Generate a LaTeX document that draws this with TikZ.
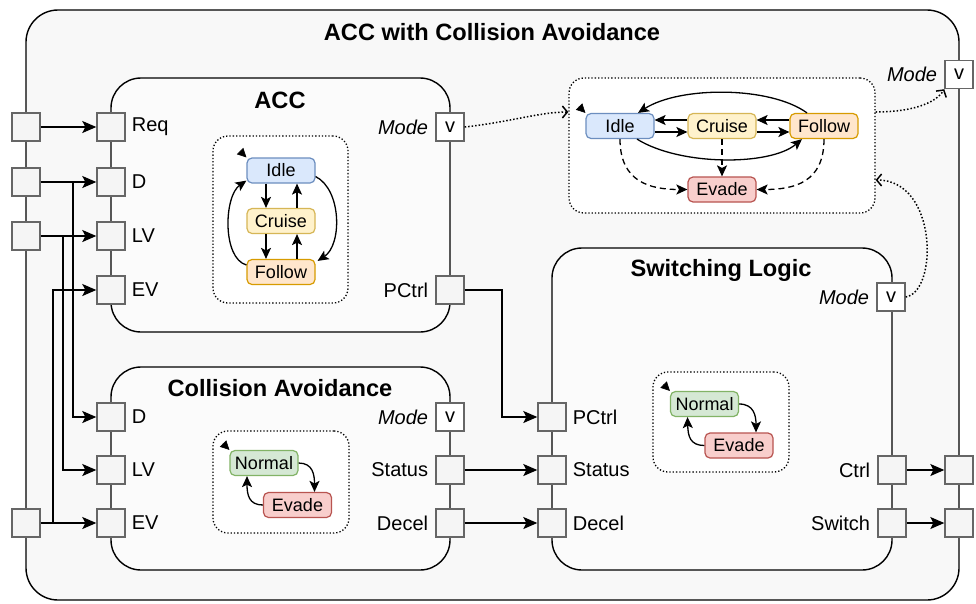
\documentclass[tikz,border=0pt]{standalone}
\usepackage{fontspec}
\setmainfont{Liberation Sans}
\usetikzlibrary{arrows.meta,calc}
\definecolor{portfill}{HTML}{F5F5F5}
\definecolor{portdraw}{HTML}{666666}
\definecolor{outerfill}{HTML}{F8F8F8}
\definecolor{innerfill}{HTML}{FBFBFB}
\definecolor{idlef}{HTML}{DAE8FC}\definecolor{idled}{HTML}{6C8EBF}
\definecolor{cruisef}{HTML}{FFF2CC}\definecolor{cruised}{HTML}{D6B656}
\definecolor{followf}{HTML}{FFE6CC}\definecolor{followd}{HTML}{D79B00}
\definecolor{evadef}{HTML}{F8CECC}\definecolor{evaded}{HTML}{B85450}
\definecolor{normalf}{HTML}{D5E8D4}\definecolor{normald}{HTML}{82B366}
\tikzset{
  bigbox/.style={draw=black, line width=1.4pt, rounded corners=30pt, fill=innerfill},
  dotbox/.style={draw=black, dotted, line width=1.3pt, rounded corners=15pt, fill=white, inner sep=0pt},
  port/.style={draw=portdraw, fill=portfill, line width=1.4pt, minimum size=28pt, inner sep=0pt},
  vport/.style={port, fill=white, font=\fontsize{20}{24}\selectfont},
  plabel/.style={inner sep=0pt, font=\fontsize{20}{24}\selectfont},
  mlabel/.style={inner sep=0pt, font=\fontsize{20}{24}\selectfont\itshape, anchor=east},
  ttl/.style={inner sep=0pt, font=\fontsize{23.6}{28}\selectfont\bfseries},
  state/.style={rounded corners=5pt, minimum width=68pt, minimum height=25pt, line width=1.2pt, inner sep=0pt, font=\fontsize{18}{22}\selectfont},
  idlest/.style={state, draw=idled, fill=idlef},
  cruisest/.style={state, draw=cruised, fill=cruisef},
  followst/.style={state, draw=followd, fill=followf},
  evadest/.style={state, draw=evaded, fill=evadef},
  normalst/.style={state, draw=normald, fill=normalf},
  conn/.style={line width=1.4pt, -{Stealth[length=14pt,width=12pt,inset=3pt]}},
  sarr/.style={line width=1.3pt, -{Stealth[length=11pt,width=10pt,inset=2.5pt]}},
  dasharr/.style={sarr, dash pattern=on 6pt off 4pt},
  initarr/.style={line width=0.6pt, -{Triangle[length=9pt,width=9pt]}},
  dotarr/.style={line width=1.5pt, dotted, -{Straight Barb[length=5pt,width=12pt]}}
}
\begin{document}
\begin{tikzpicture}[x=1pt,y=-1pt]
\useasboundingbox (0,0) rectangle (976,603);
% outer container
\draw[line width=1.4pt, rounded corners=32pt, fill=outerfill] (26,10) rectangle (959,600);
\node[ttl] (ttlmain) at (492,32) {ACC with Collision Avoidance};
% inner boxes
\draw[bigbox] (111,78) rectangle (450,332);
\draw[bigbox] (111,367) rectangle (450,570);
\draw[bigbox] (552,248) rectangle (892,570);
\node[ttl] (ttlacc) at (280,100) {ACC};
\node[ttl] (ttlca) at (280,388) {Collision Avoidance};
\node[ttl] (ttlsl) at (721,270) {Switching Logic};

% dotted state boxes
\node[dotbox, minimum width=306pt, minimum height=135pt] (tb) at (722,145.5) {};
\node[dotbox, minimum width=135pt, minimum height=167pt] (ab) at (280.5,219.5) {};
\node[dotbox, minimum width=136pt, minimum height=102pt] (cb) at (281,482) {};
\node[dotbox, minimum width=136pt, minimum height=100pt] (sb) at (721,422) {};

% outer ports
\node[port] (p1) at (26,127) {};
\node[port] (p2) at (26,182) {};
\node[port] (p3) at (26,236) {};
\node[port] (p4) at (26,523) {};
\node[port] (octrl) at (959,470) {};
\node[port] (oswitch) at (959,523) {};
\node[vport] (om) at (959,74.5) {v};
\node[mlabel] (oml) at ([xshift=-7pt]om.west) {Mode};

% ACC ports
\node[port] (areq) at (111,127) {};
\node[port] (ad) at (111,182) {};
\node[port] (alv) at (111,236) {};
\node[port] (aev) at (111,290) {};
\node[plabel, anchor=west] (areql) at ([xshift=6pt]areq.east) {Req};
\node[plabel, anchor=west] (adl) at ([xshift=6pt]ad.east) {D};
\node[plabel, anchor=west] (alvl) at ([xshift=6pt]alv.east) {LV};
\node[plabel, anchor=west] (aevl) at ([xshift=6pt]aev.east) {EV};
\node[vport] (am) at (450,127) {v};
\node[mlabel] (aml) at ([xshift=-7pt]am.west) {Mode};
\node[port] (apc) at (450,290) {};
\node[plabel, anchor=east] (apcl) at ([xshift=-7pt]apc.west) {PCtrl};

% CA ports
\node[port] (cd) at (111,417) {};
\node[port] (clv) at (111,470) {};
\node[port] (cev) at (111,523) {};
\node[plabel, anchor=west] (cdl) at ([xshift=6pt]cd.east) {D};
\node[plabel, anchor=west] (clvl) at ([xshift=6pt]clv.east) {LV};
\node[plabel, anchor=west] (cevl) at ([xshift=6pt]cev.east) {EV};
\node[vport] (cm) at (450,417) {v};
\node[mlabel] (cml) at ([xshift=-7pt]cm.west) {Mode};
\node[port] (cst) at (450,470) {};
\node[port] (cdc) at (450,523) {};
\node[plabel, anchor=east] (cstl) at ([xshift=-7pt]cst.west) {Status};
\node[plabel, anchor=east] (cdcl) at ([xshift=-7pt]cdc.west) {Decel};

% SL ports
\node[port] (spc) at (552,417) {};
\node[port] (sst) at (552,470) {};
\node[port] (sdc) at (552,523) {};
\node[plabel, anchor=west] (spcl) at ([xshift=6pt]spc.east) {PCtrl};
\node[plabel, anchor=west] (sstl) at ([xshift=6pt]sst.east) {Status};
\node[plabel, anchor=west] (sdcl) at ([xshift=6pt]sdc.east) {Decel};
\node[vport] (sm) at (891,297) {v};
\node[mlabel] (sml) at ([xshift=-7pt]sm.west) {Mode};
\node[port] (sctrl) at (892,470) {};
\node[port] (sswitch) at (892,523) {};
\node[plabel, anchor=east] (sctrll) at ([xshift=-7pt]sctrl.west) {Ctrl};
\node[plabel, anchor=east] (sswitchl) at ([xshift=-7pt]sswitch.west) {Switch};

% routing coordinates
\coordinate (bx1) at (73,0);
\coordinate (bx2) at (63,0);
\coordinate (bx3) at (53,0);
\coordinate (bx4) at (502,0);

% port connections
\draw[conn] (p1.east) -- (areq.west);
\draw[conn] (p2.east) -- (ad.west);
\draw[conn] (p2.east -| bx1) |- (cd.west);
\draw[conn] (p3.east) -- (alv.west);
\draw[conn] (p3.east -| bx2) |- (clv.west);
\draw[conn] (p4.east) -- (cev.west);
\draw[conn] (p4.east -| bx3) |- (aev.west);
\draw[conn] (apc.east) -- (apc.east -| bx4) |- (spc.west);
\draw[conn] (cst.east) -- (sst.west);
\draw[conn] (cdc.east) -- (sdc.west);
\draw[conn] (sctrl.east) -- (octrl.west);
\draw[conn] (sswitch.east) -- (oswitch.west);

% dotted mode links
\draw[dotarr] (am.east) .. controls (510,122) and (540,112) .. ([yshift=33.5pt]tb.west);
\draw[dotarr] ([yshift=33.5pt]tb.east) .. controls (910,112) and (935,104) .. (om.south west);
\draw[dotarr] (sm.east) .. controls (938,292) and (938,180) .. ([yshift=-34.5pt]tb.east);

% top state machine
\node[idlest] (tid) at (620,126) {Idle};
\node[cruisest] (tcr) at (722,126) {Cruise};
\node[followst] (tfo) at (824,126) {Follow};
\node[evadest] (tev) at (722,189.5) {Evade};
\draw[initarr] ([shift={(-6.5pt,6.5pt)}]tid.north west) -- (tid.north west);
\draw[sarr] ([yshift=6pt]tcr.west) -- ([yshift=6pt]tid.east);
\draw[sarr] ([yshift=-6pt]tid.east) -- ([yshift=-6pt]tcr.west);
\draw[sarr] ([yshift=6pt]tfo.west) -- ([yshift=6pt]tcr.east);
\draw[sarr] ([yshift=-6pt]tcr.east) -- ([yshift=-6pt]tfo.west);
\draw[sarr] ([xshift=-17pt]tfo.north) .. controls (770,86) and (680,86) .. ([xshift=18pt]tid.north);
\draw[sarr] ([xshift=17pt]tid.south) .. controls (680,166) and (770,166) .. ([xshift=-22pt]tfo.south);
\draw[dasharr] (tid.south) .. controls (620,182) and (650,189.5) .. (tev.west);
\draw[dasharr] (tcr.south) -- (tev.north);
\draw[dasharr] (tfo.south) .. controls (824,182) and (795,189.5) .. (tev.east);

% ACC state machine
\node[idlest] (aid) at (281,170.5) {Idle};
\node[cruisest] (acr) at (281,221) {Cruise};
\node[followst] (afo) at (281,272) {Follow};
\draw[initarr] ([shift={(-6.5pt,6.5pt)}]aid.north west) -- (aid.north west);
\draw[sarr] ([xshift=-15pt]aid.south) -- ([xshift=-15pt]acr.north);
\draw[sarr] ([xshift=16pt]acr.north) -- ([xshift=16pt]aid.south);
\draw[sarr] ([xshift=-15pt]acr.south) -- ([xshift=-15pt]afo.north);
\draw[sarr] ([xshift=16pt]afo.north) -- ([xshift=16pt]acr.south);
\draw[sarr] ([yshift=7pt]afo.west) .. controls (222,258) and (224,196) .. ([yshift=3pt]aid.south west);
\draw[sarr] ([yshift=-6pt]aid.east) .. controls (342,190) and (342,245) .. ([shift={(2pt,-2pt)}]afo.north east);

% CA state machine
\node[normalst] (cno) at (264,463) {Normal};
\node[evadest] (cev2) at (297.5,505) {Evade};
\draw[initarr] ([shift={(-6.5pt,6.5pt)}]cno.north west) -- (cno.north west);
\draw[sarr] (cno.east) .. controls (313,463) and (314.5,475) .. ([xshift=17pt]cev2.north);
\draw[sarr] (cev2.west) .. controls (249,505) and (247,495) .. ([xshift=-17pt]cno.south);

% SL state machine
\node[normalst] (sno) at (704.5,404) {Normal};
\node[evadest] (sev) at (739,445.5) {Evade};
\draw[initarr] ([shift={(-6.5pt,6.5pt)}]sno.north west) -- (sno.north west);
\draw[sarr] (sno.east) .. controls (754,404) and (756,416) .. ([xshift=17pt]sev.north);
\draw[sarr] (sev.west) .. controls (690,445.5) and (688,436) .. ([xshift=-17pt]sno.south);
\end{tikzpicture}
\end{document}
